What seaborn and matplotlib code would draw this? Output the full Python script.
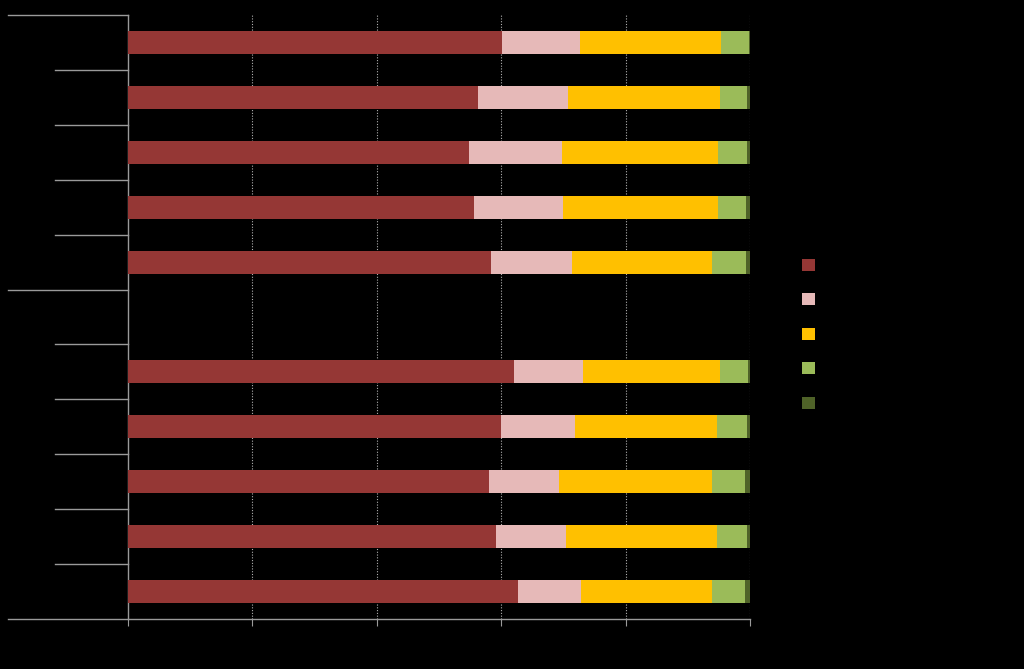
import numpy as np
import pandas as pd
import matplotlib
matplotlib.use("Agg")
import matplotlib.pyplot as plt
import matplotlib.transforms as mtransforms
from matplotlib.patches import Patch
import seaborn as sns

# ---- data (percent shares, top row first) ----
rows = ["A 1", "A 2", "A 3", "A 4", "A 5", " ", "B 1", "B 2", "B 3", "B 4", "B 5"]
series = ["Série 1", "Série 2", "Série 3", "Série 4", "Série 5"]
s1 = [60.1, 56.3, 54.8, 55.6, 58.4, np.nan, 62.1, 60.0, 58.0, 59.2, 62.7]
s2 = [12.6, 14.4, 15.0, 14.3, 13.0, np.nan, 11.1, 11.9, 11.3, 11.2, 10.1]
s3 = [22.6, 24.5, 25.1, 25.0, 22.5, np.nan, 22.0, 22.8, 24.6, 24.3, 21.1]
s4 = [4.5, 4.3, 4.6, 4.5, 5.5, np.nan, 4.5, 4.8, 5.3, 4.8, 5.3]
s5 = [0.2, 0.5, 0.5, 0.6, 0.6, np.nan, 0.3, 0.5, 0.8, 0.5, 0.8]
xticks = [0, 20, 40, 60, 80, 100]
colors = ["#953735", "#E6B9B8", "#FFC000", "#9BBB59", "#4F6228"]

vals = np.array([s1, s2, s3, s4, s5])
cum = np.nancumsum(vals, axis=0)
cum[:, 5] = np.nan

fig = plt.figure(figsize=(10.24, 6.69), dpi=100, facecolor="black")
ax = fig.add_axes([128 / 1024, 50 / 669, 622 / 1024, 604 / 669])
ax.set_facecolor("black")

# draw cumulative bars from the outermost to the innermost
for i in range(len(series) - 1, -1, -1):
    df = pd.DataFrame({"row": rows, "v": cum[i]})
    sns.barplot(data=df, x="v", y="row", order=rows, orient="h",
                color=colors[i], saturation=1, width=0.42, ax=ax,
                linewidth=0, zorder=3)

ax.set_xlim(0, 100)
ax.set_ylim(len(rows) - 0.5, -0.5)
ax.set_xticks(xticks)
ax.set_xticklabels([str(t) for t in xticks], color="black", fontsize=9)
ax.set_yticks(range(len(rows)))
ax.set_yticklabels(rows, color="black", fontsize=9)
ax.tick_params(axis="y", length=0, pad=8)
ax.tick_params(axis="x", length=5, color="#9a9a9a", direction="out")
ax.set_xlabel("")
ax.set_ylabel("")

for t in xticks[1:]:
    ax.axvline(t, color="#b0b0b0", linestyle=(0, (1, 1.5)), linewidth=0.8, zorder=1)

for side in ["top", "right"]:
    ax.spines[side].set_visible(False)
for side in ["left", "bottom"]:
    ax.spines[side].set_color("#9a9a9a")
    ax.spines[side].set_linewidth(1)

# grouped category axis lines
trans = mtransforms.blended_transform_factory(ax.transAxes, ax.transData)
for yb in [-0.5, 4.5, 10.5]:
    ax.plot([-120 / 622, 0], [yb, yb], transform=trans, color="#9a9a9a",
            linewidth=1, clip_on=False)
for yb in [0.5, 1.5, 2.5, 3.5, 5.5, 6.5, 7.5, 8.5, 9.5]:
    ax.plot([-73 / 622, 0], [yb, yb], transform=trans, color="#9a9a9a",
            linewidth=1, clip_on=False)

handles = [Patch(facecolor=c, edgecolor="none") for c in colors]
leg = fig.legend(handles, series, loc="upper left", bbox_to_anchor=(0.771, 0.632),
                 frameon=False, handlelength=0.95, handleheight=0.95,
                 labelspacing=1.47, fontsize=10, labelcolor="black")

fig.savefig("out.png", dpi=100, facecolor="black")
